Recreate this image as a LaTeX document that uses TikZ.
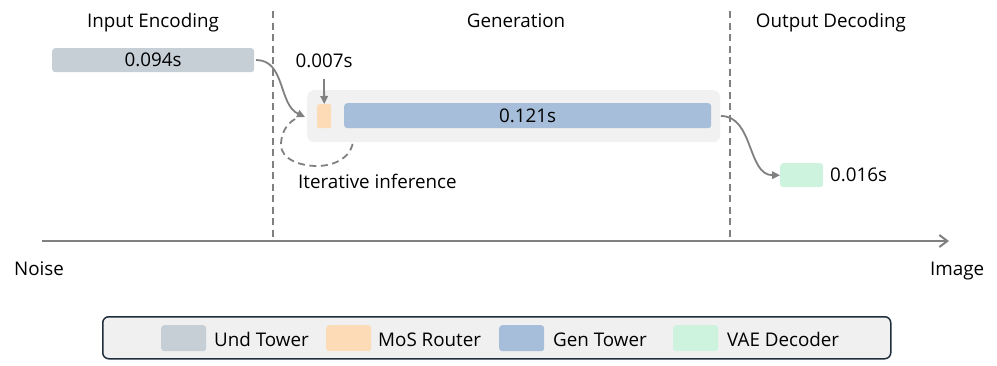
\documentclass[tikz,border=0pt]{standalone}
\usepackage{fontspec}
\setmainfont{Open Sans}
\usetikzlibrary{arrows.meta}
\definecolor{undc}{HTML}{C6CED6}
\definecolor{mosc}{HTML}{FDDBB6}
\definecolor{genc}{HTML}{A6BED9}
\definecolor{vaec}{HTML}{CDF2DD}
\definecolor{bgc}{HTML}{F1F1F1}
\definecolor{linec}{HTML}{808080}
\definecolor{legc}{HTML}{1E2E3C}
\definecolor{legbg}{HTML}{F0F0F0}
\begin{document}
\begin{tikzpicture}[x=1pt,y=1pt,
  font=\fontsize{18.8}{22}\selectfont,
  bar/.style={draw=none, rounded corners=3pt, inner sep=0pt, anchor=north west},
  lbl/.style={anchor=base, inner sep=0pt},
  lblw/.style={anchor=base west, inner sep=0pt},
  divider/.style={draw=linec, line width=1.8pt, dash pattern=on 7pt off 4.5pt},
  arr/.style={draw=linec, line width=1.8pt, -{Triangle[length=8pt,width=7.5pt]}},
  swatch/.style={draw=none, rounded corners=3pt, inner sep=0pt, anchor=north west, minimum width=45pt, minimum height=26pt}
]
\useasboundingbox (0,0) rectangle (997,-365);

% headers
\node[lbl] (h1) at (153,-27) {Input Encoding};
\node[lbl] (h2) at (516,-27) {Generation};
\node[lbl] (h3) at (831,-27) {Output Decoding};

% dividers
\coordinate (d1t) at (273,-11);
\coordinate (d1b) at (273,-238);
\coordinate (d2t) at (730,-11);
\coordinate (d2b) at (730,-238);
\draw[divider] (d1t) -- (d1b);
\draw[divider] (d2t) -- (d2b);

% background of generation block
\node[bar, fill=bgc, rounded corners=7pt, minimum width=413pt, minimum height=52pt] (bg) at (307,-90) {};

% bars
\node[bar, fill=undc, minimum width=202pt, minimum height=24pt] (und) at (52,-48) {0.094s};
\node[bar, fill=mosc, rounded corners=2pt, minimum width=14pt, minimum height=24pt] (mos) at (317,-104) {};
\node[bar, fill=genc, minimum width=367pt, minimum height=25pt] (gen) at (344,-103) {0.121s};
\node[bar, fill=vaec, minimum width=43pt, minimum height=24pt] (vae) at (780,-163) {};

% labels
\node[lbl] (t007) at (324,-67) {0.007s};
\node[lblw] (t016) at (830,-181) {0.016s};
\node[lblw] (iter) at (298,-188) {Iterative inference};

% arrows
\coordinate (a007) at (324,-79);
\draw[arr] (a007) -- (mos.north);
\coordinate (a1s) at (256,-60);
\coordinate (a1e) at (305,-117);
\draw[arr] (a1s) to[out=0,in=155] (a1e);
\coordinate (a2s) at (721,-116);
\draw[arr] (a2s) to[out=0,in=180] (vae.west);

% iterative loop
\coordinate (l0) at (295,-119);
\coordinate (l1) at (281,-145);
\coordinate (l2) at (317,-166);
\coordinate (l3) at (353,-140);
\draw[divider] (l0) .. controls (285,-125) and (281,-135) .. (l1)
  .. controls (281,-159) and (300,-166) .. (l2)
  .. controls (337,-166) and (353,-155) .. (l3);

% axis
\coordinate (ax0) at (42,-241);
\coordinate (ax1) at (949,-241);
\draw[draw=linec, line width=2pt, -{Straight Barb[length=8pt,width=12pt]}] (ax0) -- (ax1);
\node[lblw] (noise) at (14,-275) {Noise};
\node[lblw] (image) at (930,-275) {Image};

% legend
\node[bar, draw=legc, line width=1.5pt, fill=legbg, rounded corners=6pt, minimum width=788pt, minimum height=42pt] (leg) at (102,-316) {};
\node[swatch, fill=undc] (s1) at (161,-325) {};
\node[lblw] (l1t) at (214,-346) {Und Tower};
\node[swatch, fill=mosc] (s2) at (326,-325) {};
\node[lblw] (l2t) at (378,-346) {MoS Router};
\node[swatch, fill=genc] (s3) at (499,-325) {};
\node[lblw] (l3t) at (553,-346) {Gen Tower};
\node[swatch, fill=vaec] (s4) at (673,-325) {};
\node[lblw] (l4t) at (727,-346) {VAE Decoder};
\end{tikzpicture}
\end{document}
